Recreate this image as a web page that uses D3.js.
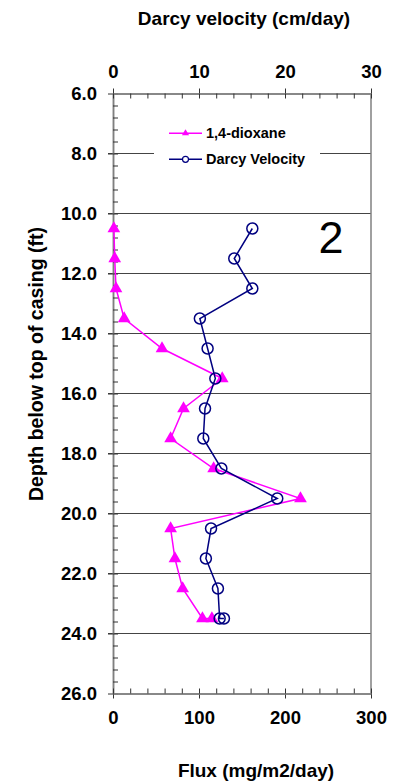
<!DOCTYPE html>
<html>
<head>
    <meta charset="utf-8">
    <title>Flux and Darcy velocity</title>
    <script src="https://d3js.org/d3.v7.min.js"></script>
    <style>
        body { margin: 0; background: #fff; }
    </style>
</head>
<body>
<div id="chart"></div>
<script type="text/javascript">
    // depths (ft) of the sample points
    const depths = [10.5, 11.5, 12.5, 13.5, 14.5, 15.5, 16.5, 17.5, 18.5, 19.5, 20.5, 21.5, 22.5, 23.5, 23.5];
    // 1,4-dioxane flux (mg/m2/day)
    const dioxane = [1, 2, 3.5, 13, 57, 127, 82, 67, 117, 218, 67, 72, 81, 104, 115];
    // Darcy velocity (cm/day)
    const darcy = [16.2, 14.1, 16.2, 10.1, 11.0, 11.9, 10.7, 10.5, 12.6, 19.1, 11.4, 10.8, 12.2, 12.4, 12.9];

    const depthTicks = d3.range(6, 26.01, 2);
    const fluxTicks = [0, 100, 200, 300];
    const darcyTicks = [0, 10, 20, 30];

    const width = 406, height = 782;
    const plotLeft = 113, plotRight = 371, plotTop = 93.5, plotBottom = 693.5;

    const font = '"Liberation Sans", Arial, sans-serif';
    const magenta = '#ff00ff';
    const navy = '#000080';
    const axisGray = '#808080';

    const svg = d3.select('#chart').append('svg').attr('width', width).attr('height', height)
        .attr('font-family', font);

    const y = d3.scaleLinear().domain([6, 26]).range([plotTop, plotBottom]);
    const xFlux = d3.scaleLinear().domain([0, 300]).range([plotLeft, plotRight]);
    const xDarcy = d3.scaleLinear().domain([0, 30]).range([plotLeft, plotRight]);

    // horizontal grid lines
    svg.append('g').selectAll('line')
        .data(depthTicks.filter(d => d > 6 && d < 26))
        .enter().append('line')
        .attr('x1', plotLeft - 5).attr('x2', plotRight)
        .attr('y1', d => y(d)).attr('y2', d => y(d))
        .attr('stroke', '#444').attr('stroke-width', 1);

    // right border
    svg.append('line')
        .attr('x1', plotRight).attr('x2', plotRight).attr('y1', plotTop).attr('y2', plotBottom)
        .attr('stroke', axisGray).attr('stroke-width', 1.5);

    function styleAxis(g) {
        g.attr('font-family', font).attr('font-size', 18.5).attr('font-weight', 'bold');
        g.select('.domain').attr('stroke', axisGray).attr('stroke-width', 1.5);
        g.selectAll('.tick line').attr('stroke', '#333');
        g.selectAll('text').attr('fill', '#000');
    }

    // left axis: labels + outside ticks
    const yAxis = svg.append('g').attr('transform', `translate(${plotLeft},0)`)
        .call(d3.axisLeft(y).tickValues(depthTicks).tickFormat(d3.format('.1f'))
            .tickSize(5).tickPadding(11).tickSizeOuter(0));
    styleAxis(yAxis);

    // left axis minor ticks (inside)
    const yMinor = svg.append('g').attr('transform', `translate(${plotLeft},0)`)
        .call(d3.axisRight(y).tickValues(d3.range(6, 26.01, 0.4)).tickFormat('').tickSize(5).tickSizeOuter(0));
    styleAxis(yMinor);

    // top axis (Darcy velocity)
    const topAxis = svg.append('g').attr('transform', `translate(0,${plotTop})`)
        .call(d3.axisTop(xDarcy).tickValues(darcyTicks).tickSize(5).tickPadding(11).tickSizeOuter(0));
    styleAxis(topAxis);
    const topMinor = svg.append('g').attr('transform', `translate(0,${plotTop})`)
        .call(d3.axisBottom(xDarcy).tickValues(d3.range(0, 30.01, 2)).tickFormat('').tickSize(5).tickSizeOuter(0));
    styleAxis(topMinor);

    // bottom axis (flux)
    const botAxis = svg.append('g').attr('transform', `translate(0,${plotBottom})`)
        .call(d3.axisBottom(xFlux).tickValues(fluxTicks).tickSize(5).tickPadding(12).tickSizeOuter(0));
    styleAxis(botAxis);
    const botMinor = svg.append('g').attr('transform', `translate(0,${plotBottom})`)
        .call(d3.axisTop(xFlux).tickValues(d3.range(0, 300.01, 20)).tickFormat('').tickSize(5).tickSizeOuter(0));
    styleAxis(botMinor);

    // axis titles
    svg.append('text').attr('x', 244).attr('y', 25).attr('text-anchor', 'middle')
        .attr('font-size', 19).attr('font-weight', 'bold').text('Darcy velocity (cm/day)');
    svg.append('text').attr('x', 256).attr('y', 777).attr('text-anchor', 'middle')
        .attr('font-size', 19).attr('font-weight', 'bold').text('Flux (mg/m2/day)');
    svg.append('text').attr('transform', 'translate(43,364) rotate(-90)').attr('text-anchor', 'middle')
        .attr('font-size', 19.5).attr('font-weight', 'bold').text('Depth below top of casing (ft)');

    // panel number
    svg.append('text').attr('x', 331).attr('y', 253).attr('text-anchor', 'middle')
        .attr('font-size', 45).text('2');

    // dioxane series
    const fluxLine = d3.line().x((d, i) => xFlux(dioxane[i])).y(d => y(d));
    svg.append('path').datum(depths).attr('d', fluxLine)
        .attr('fill', 'none').attr('stroke', magenta).attr('stroke-width', 1.5);
    const tri = d3.symbol().type(d3.symbolTriangle).size(70);
    svg.append('g').selectAll('path')
        .data(depths).enter().append('path')
        .attr('d', tri)
        .attr('transform', (d, i) => `translate(${xFlux(dioxane[i])},${y(d)})`)
        .attr('fill', magenta);

    // darcy series
    const darcyLine = d3.line().x((d, i) => xDarcy(darcy[i])).y(d => y(d));
    svg.append('path').datum(depths).attr('d', darcyLine)
        .attr('fill', 'none').attr('stroke', navy).attr('stroke-width', 1.5);
    svg.append('g').selectAll('circle')
        .data(depths).enter().append('circle')
        .attr('cx', (d, i) => xDarcy(darcy[i])).attr('cy', d => y(d)).attr('r', 5.5)
        .attr('fill', 'none').attr('stroke', navy).attr('stroke-width', 1.5);

    // legend
    const legend = svg.append('g');
    legend.append('rect').attr('x', 154).attr('y', 118).attr('width', 166).attr('height', 55).attr('fill', '#fff');
    const items = [
        {name: '1,4-dioxane', color: magenta, y: 133.3},
        {name: 'Darcy Velocity', color: navy, y: 159.3}
    ];
    items.forEach(it => {
        legend.append('line').attr('x1', 169).attr('x2', 202).attr('y1', it.y).attr('y2', it.y)
            .attr('stroke', it.color).attr('stroke-width', 1.5);
        legend.append('text').attr('x', 206).attr('y', it.y + 5).attr('font-size', 14.5)
            .attr('font-weight', 'bold').text(it.name);
    });
    legend.append('path').attr('d', d3.symbol().type(d3.symbolTriangle).size(22))
        .attr('transform', `translate(185.5,${items[0].y})`).attr('fill', magenta);
    legend.append('circle').attr('cx', 185.5).attr('cy', items[1].y).attr('r', 3)
        .attr('fill', '#fff').attr('stroke', navy).attr('stroke-width', 1.2);
</script>
</body>
</html>
